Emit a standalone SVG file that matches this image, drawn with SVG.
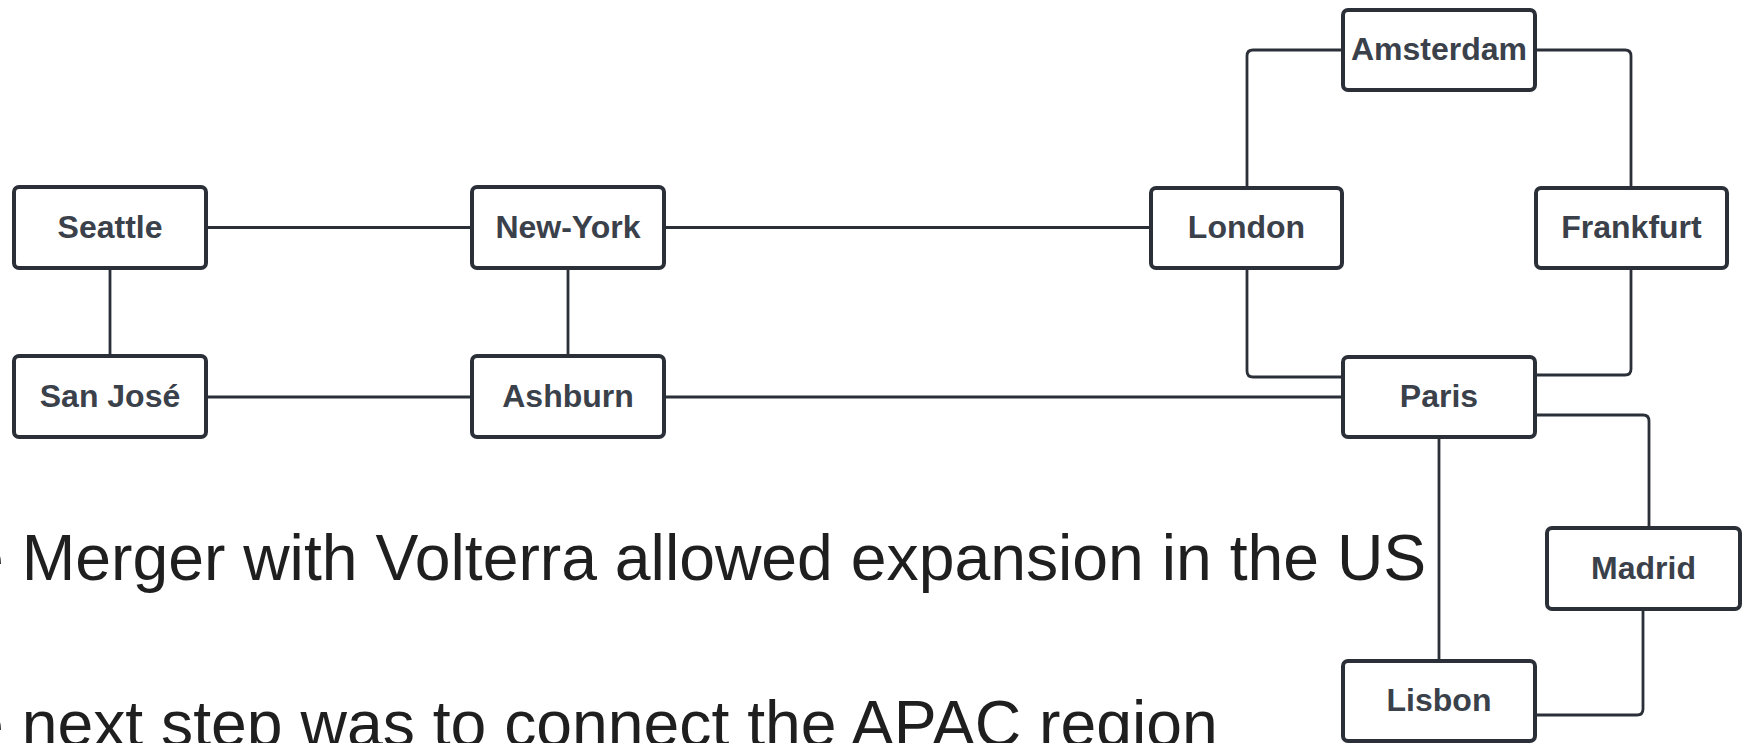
<svg xmlns="http://www.w3.org/2000/svg" width="1747" height="743" viewBox="0 0 1747 743">
<style>
.box{fill:#ffffff;stroke:#2b3038;stroke-width:4}
.lbl{font-family:"Liberation Sans",Arial,sans-serif;font-weight:bold;font-size:32px;fill:#3a414a;text-anchor:middle}
.con{fill:none;stroke:#2b3038;stroke-width:2.8}
.big{font-family:"Liberation Sans",Arial,sans-serif;font-size:64.3px;fill:#1f1f1f}
</style>
<rect width="1747" height="743" fill="#ffffff"/>
<g id="connectors">
<path class="con" d="M206 227.5H472"/>
<path class="con" d="M110 268V356"/>
<path class="con" d="M568 268V356"/>
<path class="con" d="M206 397H472"/>
<path class="con" d="M664 227.5H1151"/>
<path class="con" d="M664 397H1343"/>
<path class="con" d="M1247 188V56q0-6 6-6H1343"/>
<path class="con" d="M1535 50H1625q6 0 6 6V188"/>
<path class="con" d="M1247 268V371q0 6 6 6H1343"/>
<path class="con" d="M1631 268V369q0 6-6 6H1535"/>
<path class="con" d="M1535 415H1643q6 0 6 6V528"/>
<path class="con" d="M1439 437V661"/>
<path class="con" d="M1643 609V709q0 6-6 6H1535"/>
</g>
<g id="seattle"><rect class="box" x="14" y="187" width="192" height="81" rx="5"/><text class="lbl" x="110" y="237.5">Seattle</text></g>
<g id="newyork"><rect class="box" x="472" y="187" width="192" height="81" rx="5"/><text class="lbl" x="568" y="237.5">New-York</text></g>
<g id="sanjose"><rect class="box" x="14" y="356" width="192" height="81" rx="5"/><text class="lbl" x="110" y="406.5">San José</text></g>
<g id="ashburn"><rect class="box" x="472" y="356" width="192" height="81" rx="5"/><text class="lbl" x="568" y="406.5">Ashburn</text></g>
<g id="london"><rect class="box" x="1151" y="188" width="191" height="80" rx="5"/><text class="lbl" x="1246.5" y="237.5">London</text></g>
<g id="amsterdam"><rect class="box" x="1343" y="10" width="192" height="80" rx="5"/><text class="lbl" x="1439" y="60">Amsterdam</text></g>
<g id="frankfurt"><rect class="box" x="1536" y="188" width="191" height="80" rx="5"/><text class="lbl" x="1631.5" y="237.5">Frankfurt</text></g>
<g id="paris"><rect class="box" x="1343" y="357" width="192" height="80" rx="5"/><text class="lbl" x="1439" y="406.5">Paris</text></g>
<g id="madrid"><rect class="box" x="1547" y="528" width="193" height="81" rx="5"/><text class="lbl" x="1643.5" y="578.5">Madrid</text></g>
<g id="lisbon"><rect class="box" x="1343" y="661" width="192" height="80" rx="5"/><text class="lbl" x="1439" y="710.5">Lisbon</text></g>
<g id="notes">
<text class="big" x="-107" y="580">The Merger with Volterra allowed expansion in the US</text>
<text class="big" x="-107" y="746">The next step was to connect the APAC region</text>
</g>
</svg>
